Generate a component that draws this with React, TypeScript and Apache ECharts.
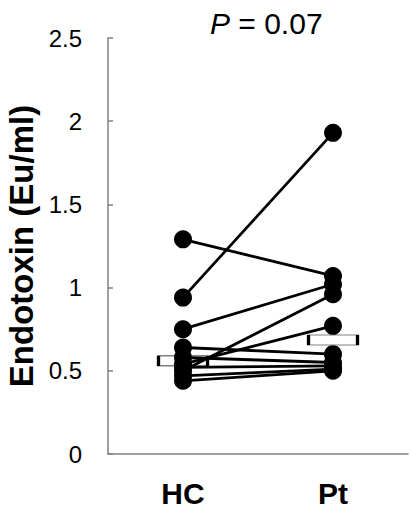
import React, { useEffect, useRef } from "react";
import * as echarts from "echarts";

const categories = ["HC", "Pt"];
const hcValues = [1.29, 0.94, 0.75, 0.5, 0.54, 0.64, 0.58, 0.52, 0.47, 0.44];
const ptValues = [1.07, 1.93, 1.02, 0.96, 0.77, 0.6, 0.55, 0.53, 0.51, 0.5];
const yTicks = { min: 0, max: 2.5, interval: 0.5 };
const yName = "Endotoxin (Eu/ml)";

function median(arr: number[]) {
  const s = [...arr].sort((a, b) => a - b);
  const n = s.length;
  return n % 2 ? s[(n - 1) / 2] : (s[n / 2 - 1] + s[n / 2]) / 2;
}

export default function App() {
  const ref = useRef<HTMLDivElement>(null);
  useEffect(() => {
    if (!ref.current) return;
    const chart = echarts.init(ref.current, null, { renderer: "svg" });
    const font = "Liberation Sans, Arial, sans-serif";
    const pairSeries = hcValues.map((hc, i) => ({
      type: "line",
      data: [
        [0, hc],
        [1, ptValues[i]],
      ],
      showSymbol: false,
      symbol: "none",
      lineStyle: { color: "#000", width: 2.8 },
      z: 3,
      silent: true,
    }));
    chart.setOption({
      animation: false,
      grid: { left: 108, right: 3, top: 38, bottom: 56, outerBoundsMode: "none", containLabel: false },
      title: {
        text: "{i|P} = 0.07",
        left: 205,
        top: 3,
        textStyle: {
          fontFamily: font,
          fontSize: 30,
          fontWeight: "normal",
          color: "#000",
          rich: {
            i: { fontStyle: "italic", fontSize: 30, fontFamily: font, color: "#000" },
          },
        },
      },
      xAxis: {
        type: "category",
        data: categories,
        boundaryGap: true,
        axisLine: { lineStyle: { color: "#808080", width: 1.5 } },
        axisTick: { inside: true, length: 5, lineStyle: { color: "#808080", width: 1.5 } },
        axisLabel: {
          color: "#000",
          fontFamily: font,
          fontSize: 30,
          fontWeight: "bold",
          margin: 24,
        },
        splitLine: { show: false },
      },
      yAxis: {
        type: "value",
        min: yTicks.min,
        max: yTicks.max,
        interval: yTicks.interval,
        name: yName,
        nameLocation: "middle",
        nameGap: 67,
        nameTextStyle: {
          fontFamily: font,
          fontSize: 33,
          fontWeight: "bold",
          color: "#000",
        },
        axisLine: { show: true, lineStyle: { color: "#808080", width: 1.5 } },
        axisTick: { show: true, inside: true, length: 5, lineStyle: { color: "#808080", width: 1.5 } },
        axisLabel: { color: "#000", fontFamily: font, fontSize: 24, margin: 26 },
        splitLine: { show: false },
      },
      series: [
        {
          type: "scatter",
          data: [
            [0, median(hcValues)],
            [1, median(ptValues)],
          ],
          symbol: "rect",
          symbolSize: [49, 10],
          itemStyle: { color: "#fff", borderColor: "#000", borderWidth: 1.5, opacity: 1 },
          z: 2,
          silent: true,
        },
        ...pairSeries,
        {
          type: "scatter",
          data: [
            ...hcValues.map((v) => [0, v]),
            ...ptValues.map((v) => [1, v]),
          ],
          symbol: "circle",
          symbolSize: 18,
          itemStyle: { color: "#000", opacity: 1 },
          z: 4,
          silent: true,
        },
      ],
    });
    return () => chart.dispose();
  }, []);
  return <div ref={ref} style={{ width: 411, height: 510, position: "absolute", left: 0, top: 0 }} />;
}
